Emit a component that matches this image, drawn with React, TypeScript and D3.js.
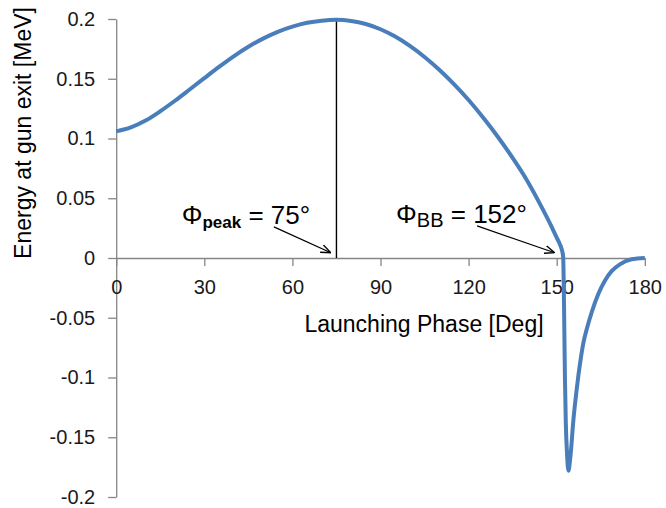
import React, { useEffect, useRef } from 'react';
import * as d3 from 'd3';

// launching phase (deg) vs energy at gun exit (MeV)
const phase = [0, 5, 10, 15, 20, 25, 30, 35, 40, 45, 50, 55, 60, 65, 70, 75, 80, 85, 90, 95, 100, 105, 110, 115, 120, 125, 130, 135, 140, 145, 148, 150, 151, 151.7, 152.2, 152.5, 152.8, 153.1, 153.5, 154, 154.5, 154.9, 155.6, 156.8, 158.2, 159, 160.4, 162.1, 164.2, 166.4, 168.7, 171.5, 175.5, 180];
const energy = [0.106, 0.1093, 0.115, 0.1228, 0.1316, 0.141, 0.1505, 0.1599, 0.1688, 0.1768, 0.1836, 0.1893, 0.1936, 0.1968, 0.1986, 0.1993, 0.1984, 0.1958, 0.1914, 0.1853, 0.1775, 0.1682, 0.1575, 0.1455, 0.1322, 0.1174, 0.1013, 0.0837, 0.0645, 0.042, 0.0275, 0.017, 0.012, 0.0073, 0.001, -0.04, -0.10, -0.138, -0.163, -0.178, -0.17, -0.16, -0.138, -0.11, -0.084, -0.072, -0.058, -0.044, -0.03, -0.019, -0.011, -0.0053, -0.0011, 0];

const xTicks = [0, 30, 60, 90, 120, 150, 180];
const yTicks = [0.2, 0.15, 0.1, 0.05, 0, -0.05, -0.1, -0.15, -0.2];
const yTickLabels = ['0.2', '0.15', '0.1', '0.05', '0', '-0.05', '-0.1', '-0.15', '-0.2'];

const peakPhase = 75;
const bbPhase = 152;

const FONT = "'Liberation Sans', Arial, sans-serif";

const App = () => {
    const ref = useRef<SVGSVGElement>(null);

    useEffect(() => {
        const svg = d3.select(ref.current);
        svg.selectAll('*').remove();

        const x = d3.scaleLinear().domain([0, 180]).range([116.2, 644.8]);
        const y = d3.scaleLinear().domain([-0.2, 0.2]).range([497, 19]);

        // arrow head
        svg.append('defs').append('marker')
            .attr('id', 'arr')
            .attr('viewBox', '0 0 10 10')
            .attr('refX', 10).attr('refY', 5)
            .attr('markerWidth', 10).attr('markerHeight', 10)
            .attr('markerUnits', 'userSpaceOnUse')
            .attr('orient', 'auto')
            .append('path')
            .attr('d', 'M0,1 L10,5 L0,9')
            .attr('fill', 'none')
            .attr('stroke', '#000')
            .attr('stroke-width', 1.3);

        // y axis
        const yAxis = svg.append('g')
            .attr('transform', `translate(${x(0)},0)`)
            .call(d3.axisLeft(y).tickValues(yTicks).tickSize(8).tickSizeOuter(0).tickPadding(13)
                .tickFormat((d, i) => yTickLabels[i]));

        // x axis at zero
        const xAxis = svg.append('g')
            .attr('transform', `translate(0,${y(0)})`)
            .call(d3.axisBottom(x).tickValues(xTicks).tickSize(8).tickSizeOuter(0).tickPadding(13.8)
                .tickFormat(d => String(d)));

        [yAxis, xAxis].forEach(g => {
            g.select('.domain').attr('stroke', '#868686').attr('stroke-width', 1.3);
            g.selectAll('.tick line').attr('stroke', '#868686').attr('stroke-width', 1.3);
            g.selectAll('.tick text')
                .attr('fill', '#1a1a1a')
                .style('font-family', FONT)
                .style('font-size', '20px');
        });

        // peak marker line
        svg.append('line')
            .attr('x1', x(peakPhase)).attr('x2', x(peakPhase))
            .attr('y1', y(d3.max(energy) as number)).attr('y2', y(0))
            .attr('stroke', '#000')
            .attr('stroke-width', 1.4);

        // curve
        const line = d3.line<number>()
            .x((d, i) => x(phase[i]))
            .y(d => y(d))
            .curve(d3.curveMonotoneX);

        svg.append('path')
            .datum(energy)
            .attr('d', line)
            .attr('fill', 'none')
            .attr('stroke', '#4A7EBB')
            .attr('stroke-width', 4)
            .attr('stroke-linejoin', 'round');

        // annotations
        const notes = [
            { sub: 'peak', bold: true, subSize: 17, value: ` = ${peakPhase}°`, tx: 22.3, ty: 0.0287, from: [53.7, 0.026], to: [73.1, 0.0044] },
            { sub: 'BB', bold: false, subSize: 20, value: ` = ${bbPhase}°`, tx: 95.3, ty: 0.0295, from: [122.9, 0.0268], to: [149.3, 0.0044] },
        ];

        notes.forEach(n => {
            const t = svg.append('text')
                .attr('x', x(n.tx)).attr('y', y(n.ty))
                .style('font-family', FONT)
                .style('font-size', '26px')
                .attr('fill', '#000');
            t.append('tspan').text('Φ');
            t.append('tspan')
                .attr('dy', 4)
                .style('font-size', `${n.subSize}px`)
                .style('font-weight', n.bold ? 'bold' : 'normal')
                .text(n.sub);
            t.append('tspan')
                .attr('dy', -4)
                .attr('xml:space', 'preserve')
                .text(n.value);

            svg.append('line')
                .attr('x1', x(n.from[0])).attr('y1', y(n.from[1]))
                .attr('x2', x(n.to[0])).attr('y2', y(n.to[1]))
                .attr('stroke', '#000')
                .attr('stroke-width', 1.3)
                .attr('marker-end', 'url(#arr)');
        });

        // axis titles
        svg.append('text')
            .attr('x', 424).attr('y', 331.5)
            .attr('text-anchor', 'middle')
            .style('font-family', FONT)
            .style('font-size', '23px')
            .attr('fill', '#000')
            .text('Launching Phase [Deg]');

        svg.append('text')
            .attr('transform', 'translate(31,133) rotate(-90)')
            .attr('text-anchor', 'middle')
            .style('font-family', FONT)
            .style('font-size', '23px')
            .attr('fill', '#000')
            .text('Energy at gun exit [MeV]');
    }, []);

    return (
        <>
            <style>{'body{margin:0;background:#fff}'}</style>
            <svg ref={ref} width={666} height={508} style={{ display: 'block' }} />
        </>
    );
};

export default App;
